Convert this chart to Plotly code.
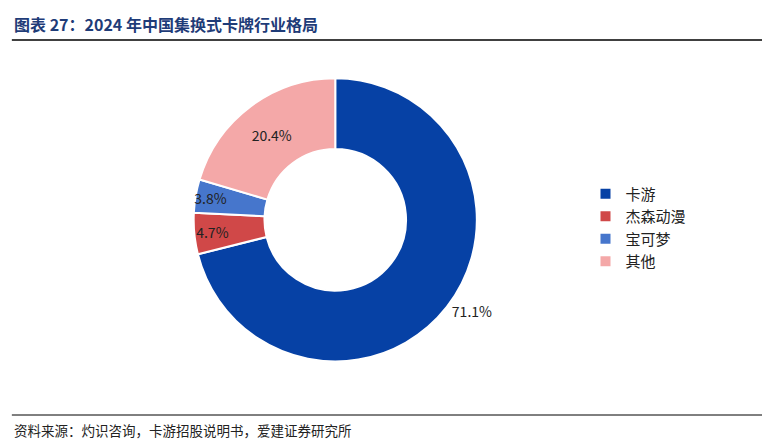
import plotly.graph_objects as go

labels = ["卡游", "杰森动漫", "宝可梦", "其他"]
values = [71.1, 4.7, 3.8, 20.4]
colors = ["#0641A5", "#D04848", "#4676CC", "#F4A8A8"]

fig = go.Figure(go.Pie(
    labels=labels, values=values, hole=0.5, sort=False, direction="clockwise",
    rotation=0,
    marker=dict(colors=colors, line=dict(color="white", width=2)),
    texttemplate="%{value:.1f}%", textposition=["outside", "inside", "inside", "inside"],
    insidetextorientation="horizontal",
    textfont=dict(size=14, color="#222"),
    domain=dict(x=[0.24, 0.61], y=[0.195, 0.84]),
))
fig.update_layout(
    width=770, height=439, margin=dict(l=0, r=0, t=0, b=0),
    paper_bgcolor="white", font=dict(family="Noto Sans CJK SC", color="#222"),
    uniformtext=dict(minsize=14, mode="show"),
    legend=dict(x=0.75, y=0.5, yanchor="middle", font=dict(size=15), itemwidth=30),
    shapes=[
        dict(type="line", xref="paper", yref="paper", x0=0.005, x1=0.995, y0=1-32/439, y1=1-32/439,
             line=dict(color="#000", width=1.5)),
        dict(type="line", xref="paper", yref="paper", x0=0.005, x1=0.995, y0=1-407/439, y1=1-407/439,
             line=dict(color="#000", width=1)),
    ],
    annotations=[
        dict(text="<b>图表 27：2024 年中国集换式卡牌行业格局</b>", x=0.005, y=1-16/439, xref="paper", yref="paper",
             xanchor="left", yanchor="middle", showarrow=False, font=dict(size=16, color="#1F3C78")),
        dict(text="资料来源：灼识咨询，卡游招股说明书，爱建证券研究所", x=0.005, y=1-422/439, xref="paper", yref="paper",
             xanchor="left", yanchor="middle", showarrow=False, font=dict(size=13.5, color="#222")),
    ],
)
fig.write_html("out.html")
